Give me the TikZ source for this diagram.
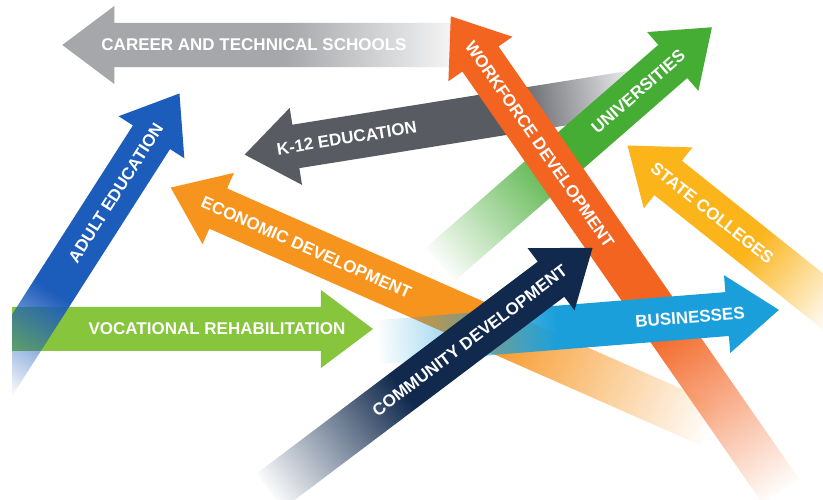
\documentclass[tikz,border=0pt]{standalone}
\usepackage{fontspec}
\setmainfont{Liberation Sans}
\usepackage{xcolor}
\usepackage{tikz}
\usetikzlibrary{calc,fadings}

\definecolor{careergray}{HTML}{A5A7AA}
\definecolor{kgray}{HTML}{585B61}
\definecolor{adultblue}{HTML}{1C5CBA}
\definecolor{econorange}{HTML}{F7941D}
\definecolor{vocgreen}{HTML}{86C53C}
\definecolor{busblue}{HTML}{1A9FDB}
\definecolor{commnavy}{HTML}{10294D}
\definecolor{workorange}{HTML}{F36421}
\definecolor{unigreen}{HTML}{45AC34}
\definecolor{stateyellow}{HTML}{FBB41A}

% fade of the tail: transparent at the tail, full colour after the ramp
\pgfdeclarehorizontalshading{tailramp}{100bp}{color(0bp)=(black); color(25bp)=(black); color(30bp)=(white); color(100bp)=(white)}
\pgfdeclarefading{tailfade}{\pgfuseshading{tailramp}}

\tikzset{arrowtext/.style={text=white,inner sep=0pt,font=\bfseries\fontsize{17}{17}\selectfont}}

% #1,#2 tail, #3 angle, #4 length, #5 ramp, #6 colour, #7 text position, #8 name, #9 text
\newcommand{\fadearrow}[9]{%
  \begin{scope}[transform canvas={shift={(#1,#2)},rotate=#3}]
    \fill[#6,path fading=tailfade] (10*#5,0) (0,22) -- (#4-52,22) -- (#4-52,39) -- (#4,0) -- (#4-52,-39) -- (#4-52,-22) -- (0,-22) -- cycle;
  \end{scope}
  \node[arrowtext,rotate={#3-(#3>90)*180}] (#8) at ($(#1,#2)+(#3:#7)$) {#9};}

\begin{document}
\begin{tikzpicture}[x=1pt,y=1pt]
  \useasboundingbox (0,0) rectangle (823,500);
  \fill[white] (0,0) rectangle (823,500);
  \clip (12,0) rectangle (823,500); % left margin stays white
  \fadearrow{470}{455}{180}{408}{190}{careergray}{216}{career}{CAREER AND TECHNICAL SCHOOLS}
  \fadearrow{645}{409.5}{189.1}{408}{137}{kgray}{302}{ktwelve}{K-12 EDUCATION}
  \fadearrow{440}{235.5}{41.1}{361}{170}{unigreen}{263}{uni}{UNIVERSITIES}
  \fadearrow{838}{186.5}{141.4}{270}{113}{stateyellow}{161}{state}{STATE COLLEGES}
  \fadearrow{-40}{171}{0}{413}{42}{vocgreen}{257}{voc}{VOCATIONAL REHABILITATION}
  \fadearrow{-6}{116.5}{57.4}{345}{111}{adultblue}{226}{adult}{ADULT EDUCATION}
  \fadearrow{780}{10}{124.8}{579}{208}{workorange}{421}{work}{WORKFORCE DEVELOPMENT}
  \fadearrow{709}{75}{156.2}{590}{251}{econorange}{440}{econ}{ECONOMIC DEVELOPMENT}
  \fadearrow{380}{158}{4.6}{401}{181}{busblue}{311}{bus}{BUSINESSES}
  \fadearrow{270}{9}{37}{404}{170}{commnavy}{250}{comm}{COMMUNITY DEVELOPMENT}
\end{tikzpicture}
\end{document}
